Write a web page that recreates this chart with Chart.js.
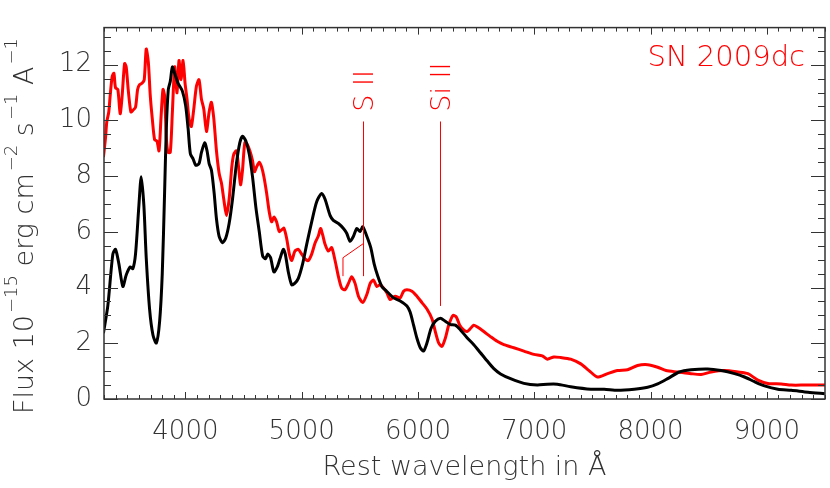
<!DOCTYPE html>
<html>
<head>
<meta charset="utf-8">
<title>SN 2009dc spectrum</title>
<script src="https://cdn.jsdelivr.net/npm/chart.js@4"></script>
<style>
    body { margin: 0; background: #fff; }
    #chart { display: block; }
</style>
</head>
<body>
<canvas id="chart" width="830" height="488"></canvas>
<script>
// Black spectrum (comparison)
var blackWave = [3295, 3333, 3376, 3399, 3428, 3462, 3491, 3525, 3548, 3571, 3600, 3620, 3643, 3663, 3692, 3721, 3750, 3778, 3801, 3821,
    3836, 3853, 3870, 3888, 3908, 3936, 3974, 4002, 4023, 4043, 4066, 4089, 4117, 4138, 4166, 4186, 4204, 4224, 4247, 4267,
    4290, 4319, 4347, 4376, 4405, 4439, 4468, 4491, 4520, 4549, 4577, 4606, 4635, 4664, 4689, 4707, 4732, 4761, 4790, 4813,
    4842, 4859, 4885, 4914, 4942, 4971, 5008, 5043, 5086, 5129, 5172, 5201, 5244, 5272, 5316, 5359, 5387, 5416, 5445, 5474,
    5502, 5525, 5560, 5594, 5623, 5652, 5689, 5732, 5790, 5847, 5905, 5933, 5962, 5991, 6020, 6048, 6077, 6112, 6149, 6192,
    6235, 6278, 6321, 6365, 6422, 6480, 6537, 6594, 6650, 6710, 6796, 6911, 7026, 7112, 7198, 7313, 7486, 7601, 7716, 7860,
    7975, 8061, 8147, 8247, 8348, 8492, 8607, 8722, 8808, 8894, 8980, 9095, 9210, 9354, 9498];
var blackFlux = [2.36, 3.35, 5.20, 5.37, 4.85, 4.04, 4.45, 4.74, 4.68, 5.20, 6.94, 7.98, 6.94, 5.08, 3.23, 2.30, 2.01, 2.77, 4.50, 7.40,
    9.72, 11.11, 11.40, 11.92, 11.69, 11.34, 11.05, 10.53, 9.72, 8.79, 8.62, 8.39, 8.45, 8.85, 9.20, 8.91, 8.45, 8.21, 7.40, 6.47,
    5.84, 5.61, 5.78, 6.30, 7.17, 8.45, 9.20, 9.43, 9.26, 8.79, 7.98, 6.88, 6.01, 5.14, 5.03, 5.20, 5.08, 4.56, 4.74, 5.03,
    5.37, 5.20, 4.56, 4.10, 4.16, 4.33, 4.85, 5.55, 6.36, 7.08, 7.38, 7.17, 6.59, 6.41, 6.30, 6.12, 5.95, 5.66, 5.84, 6.12,
    6.01, 6.18, 5.84, 5.43, 4.85, 4.44, 4.04, 3.86, 3.63, 3.52, 3.34, 3.11, 2.65, 2.18, 1.84, 1.72, 2.01, 2.53, 2.79, 2.90,
    2.79, 2.67, 2.65, 2.48, 2.20, 1.95, 1.66, 1.37, 1.10, 0.90, 0.73, 0.56, 0.50, 0.53, 0.53, 0.44, 0.35, 0.35, 0.31, 0.35,
    0.42, 0.54, 0.73, 0.97, 1.05, 1.08, 1.02, 0.91, 0.79, 0.62, 0.47, 0.35, 0.31, 0.24, 0.19];

// Red spectrum (SN 2009dc)
var redWave = [3295, 3313, 3324, 3341, 3353, 3370, 3385, 3399, 3419, 3439, 3456, 3477, 3491, 3508, 3531, 3548, 3571, 3589, 3606, 3629,
    3646, 3663, 3681, 3698, 3715, 3735, 3755, 3773, 3790, 3807, 3821, 3836, 3850, 3870, 3888, 3908, 3928, 3945, 3962, 3980,
    3997, 4014, 4031, 4051, 4072, 4095, 4117, 4138, 4158, 4181, 4204, 4224, 4244, 4267, 4290, 4310, 4330, 4353, 4376, 4399,
    4416, 4439, 4457, 4474, 4491, 4511, 4531, 4554, 4577, 4594, 4612, 4635, 4655, 4675, 4698, 4721, 4741, 4761, 4784, 4807,
    4827, 4847, 4870, 4894, 4914, 4942, 4971, 5000, 5029, 5057, 5086, 5115, 5143, 5162, 5180, 5201, 5229, 5258, 5287, 5316,
    5344, 5373, 5402, 5430, 5459, 5488, 5525, 5560, 5589, 5617, 5646, 5675, 5704, 5732, 5761, 5804, 5847, 5876, 5905, 5948,
    5991, 6034, 6077, 6120, 6149, 6178, 6206, 6235, 6264, 6301, 6330, 6359, 6393, 6422, 6451, 6480, 6508, 6566, 6623, 6681,
    6738, 6824, 6911, 6997, 7069, 7112, 7169, 7227, 7313, 7400, 7471, 7543, 7630, 7716, 7802, 7888, 7975, 8061, 8133, 8233,
    8348, 8434, 8521, 8636, 8751, 8837, 8923, 9009, 9124, 9210, 9325, 9440, 9500];
var redFlux = [8.68, 9.37, 9.95, 10.30, 10.88, 11.57, 11.69, 11.17, 11.11, 10.24, 10.88, 12.04, 11.92, 11.11, 10.30, 10.36, 10.47, 11.11, 11.28, 11.34,
    11.46, 12.56, 12.10, 10.88, 10.07, 9.31, 9.26, 8.91, 10.07, 11.11, 10.88, 9.37, 8.85, 8.85, 10.30, 11.92, 10.99, 12.15, 11.46, 12.15,
    11.34, 10.76, 10.07, 9.78, 10.41, 11.23, 11.46, 10.76, 10.41, 9.60, 10.30, 10.65, 10.07, 8.91, 8.10, 7.75, 7.17, 6.59, 7.17, 8.33,
    8.79, 8.91, 8.33, 7.69, 8.21, 9.20, 9.14, 8.91, 8.56, 8.16, 8.33, 8.50, 8.33, 7.98, 7.40, 6.71, 6.36, 6.53, 6.36, 6.01,
    6.07, 6.13, 5.78, 5.20, 4.97, 5.31, 5.37, 5.20, 5.03, 4.97, 5.20, 5.60, 5.85, 6.12, 5.90, 5.55, 5.31, 5.43, 4.97, 4.39,
    3.98, 3.92, 4.15, 4.39, 4.15, 3.69, 3.46, 3.75, 4.15, 4.27, 4.04, 4.10, 3.98, 3.81, 3.57, 3.69, 3.63, 3.87, 3.92, 3.87,
    3.69, 3.46, 3.23, 2.88, 2.42, 2.01, 1.89, 2.18, 2.65, 3.00, 2.94, 2.65, 2.48, 2.42, 2.53, 2.65, 2.59, 2.42, 2.24, 2.07,
    1.95, 1.84, 1.72, 1.60, 1.55, 1.43, 1.51, 1.49, 1.43, 1.26, 1.02, 0.79, 0.91, 1.02, 1.05, 1.20, 1.23, 1.14, 1.02, 0.97,
    0.91, 0.88, 0.97, 1.02, 0.97, 0.91, 0.68, 0.56, 0.54, 0.50, 0.50, 0.50, 0.50];

// Axis ticks
var xTicks = [4000, 5000, 6000, 7000, 8000, 9000];
var yTicks = [0, 2, 4, 6, 8, 10, 12];
var xRange = [3300, 9500];
var yRange = [0, 13.33];

// Line identifications: [label, wavelength, bottom flux]
var lineIds = [["S II", 5531, 4.41], ["Si II", 6192, 3.34]];
var sIIFork = [5355, 4.41, 5.07, 5531, 5.58];

var FONT = "'DejaVu Sans', sans-serif";
var WEIGHT = "200";
var INK = "#333";

function toPoints(xs, ys) {
    var pts = [];
    for (var i = 0; i < xs.length; i++) {
        pts.push({x: xs[i], y: ys[i]});
    }
    return pts;
}

function font(size) {
    return WEIGHT + " " + size + "px " + FONT;
}

// frame, inward ticks, labels and line marks
var decorations = {
    id: "decorations",
    afterDatasetsDraw: function (chart) {
        var ctx = chart.ctx;
        var a = chart.chartArea;
        var xs = chart.scales.x, ys = chart.scales.y;
        ctx.save();

        // frame
        ctx.strokeStyle = "#333";
        ctx.lineWidth = 1.5;
        ctx.strokeRect(a.left, a.top, a.right - a.left, a.bottom - a.top);

        // x ticks (every 100, long at 1000)
        ctx.lineWidth = 1;
        for (var w = 3300; w <= 9500; w += 100) {
            var px = Math.round(xs.getPixelForValue(w)) + 0.5;
            var len = (w % 1000 === 0) ? 7 : 4;
            ctx.beginPath();
            ctx.moveTo(px, a.bottom); ctx.lineTo(px, a.bottom - len);
            ctx.moveTo(px, a.top); ctx.lineTo(px, a.top + len);
            ctx.stroke();
        }
        // y ticks (every 0.5, long at 2)
        for (var v = 0; v <= 13; v += 0.5) {
            var py = Math.round(ys.getPixelForValue(v)) + 0.5;
            var ylen = (v % 2 === 0) ? 14 : 7;
            ctx.beginPath();
            ctx.moveTo(a.left, py); ctx.lineTo(a.left + ylen, py);
            ctx.moveTo(a.right, py); ctx.lineTo(a.right - ylen, py);
            ctx.stroke();
        }

        // line identifications
        ctx.strokeStyle = "red";
        ctx.fillStyle = "red";
        ctx.lineWidth = 1;
        ctx.font = font(27);
        lineIds.forEach(function (l) {
            var lx = Math.round(xs.getPixelForValue(l[1])) + 0.5;
            ctx.beginPath();
            ctx.moveTo(lx, ys.getPixelForValue(9.96));
            ctx.lineTo(lx, ys.getPixelForValue(l[2]));
            ctx.stroke();
            ctx.save();
            ctx.translate(lx + 9, ys.getPixelForValue(10.31));
            ctx.rotate(-Math.PI / 2);
            ctx.textAlign = "left";
            ctx.textBaseline = "alphabetic";
            ctx.fillText(l[0], 0, 0);
            ctx.restore();
        });
        var fx = xs.getPixelForValue(sIIFork[0]);
        ctx.beginPath();
        ctx.moveTo(fx, ys.getPixelForValue(sIIFork[1]));
        ctx.lineTo(fx, ys.getPixelForValue(sIIFork[2]));
        ctx.lineTo(xs.getPixelForValue(sIIFork[3]), ys.getPixelForValue(sIIFork[4]));
        ctx.stroke();

        // object name
        ctx.font = font(29);
        ctx.textAlign = "right";
        ctx.textBaseline = "middle";
        ctx.fillText("SN 2009dc", a.right - 20, a.top + 31);

        // y axis title with superscripts
        var parts = [["Flux 10", 0], ["\u221215", 1], [" erg cm", 0], ["\u22122", 1], [" s", 0], ["\u22121", 1], [" A", 0], ["\u22121", 1]];
        var total = 0;
        parts.forEach(function (p) {
            ctx.font = font(p[1] ? 18 : 27);
            total += ctx.measureText(p[0]).width + (p[1] ? 2 : 0);
        });
        ctx.fillStyle = INK;
        ctx.translate(33, 226);
        ctx.rotate(-Math.PI / 2);
        ctx.textAlign = "left";
        ctx.textBaseline = "alphabetic";
        var cx = -total / 2;
        parts.forEach(function (p) {
            ctx.font = font(p[1] ? 18 : 27);
            if (p[1]) cx += 2;
            ctx.fillText(p[0], cx, p[1] ? -16 : 0);
            cx += ctx.measureText(p[0]).width;
        });
        ctx.restore();
    }
};

var ctx = document.getElementById("chart").getContext("2d");
var myChart = new Chart(ctx, {
    type: "line",
    data: {
        datasets: [{
            label: "comparison",
            data: toPoints(blackWave, blackFlux),
            borderColor: "#000",
            borderWidth: 3,
            pointRadius: 0,
            tension: 0.25,
            fill: false
        },
            {
                label: "SN 2009dc",
                data: toPoints(redWave, redFlux),
                borderColor: "#ff0000",
                borderWidth: 3,
                pointRadius: 0,
                tension: 0.25,
                fill: false
            }
        ]
    },
    options: {
        responsive: false,
        animation: false,
        layout: {padding: {top: 16, right: 5, left: 0, bottom: 0}},
        plugins: {legend: {display: false}, tooltip: {enabled: false}},
        scales: {
            x: {
                type: "linear",
                min: xRange[0],
                max: xRange[1],
                afterBuildTicks: function (s) {
                    s.ticks = xTicks.map(function (v) { return {value: v}; });
                },
                afterFit: function (s) { s.height = 89; },
                grid: {display: false, drawTicks: false},
                border: {display: false},
                ticks: {
                    color: INK,
                    padding: 18,
                    maxRotation: 0,
                    font: {family: FONT, size: 26, weight: WEIGHT},
                    callback: function (v) { return String(v); }
                },
                title: {
                    display: true,
                    text: "Rest wavelength in \u00c5",
                    color: INK,
                    font: {family: FONT, size: 27, weight: WEIGHT},
                    padding: {top: 0, bottom: 4}
                }
            },
            y: {
                type: "linear",
                min: yRange[0],
                max: yRange[1],
                afterBuildTicks: function (s) {
                    s.ticks = yTicks.map(function (v) { return {value: v}; });
                },
                afterFit: function (s) { s.width = 104; },
                grid: {display: false, drawTicks: false},
                border: {display: false},
                ticks: {
                    color: INK,
                    padding: 12,
                    font: {family: FONT, size: 26, weight: WEIGHT},
                    callback: function (v) { return String(v); }
                }
            }
        }
    },
    plugins: [decorations]
});
</script>
</body>
</html>
